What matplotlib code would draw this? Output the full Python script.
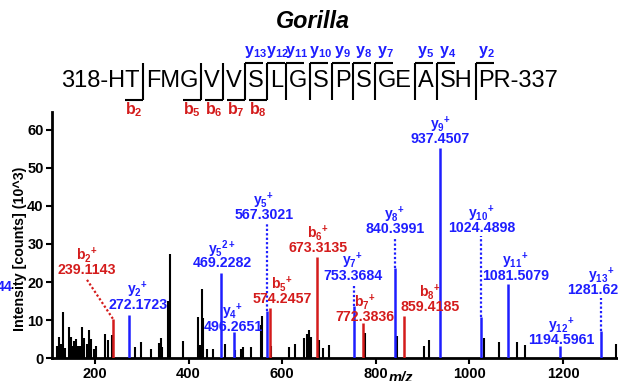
import matplotlib
matplotlib.use('Agg')
import matplotlib.pyplot as plt

plt.rcParams['font.family'] = ['Liberation Sans', 'DejaVu Sans']
plt.rcParams['mathtext.fontset'] = 'custom'
plt.rcParams['mathtext.rm'] = 'Liberation Sans'
plt.rcParams['mathtext.bf'] = 'Liberation Sans:bold'
plt.rcParams['mathtext.it'] = 'Liberation Sans:italic'

# ---------------- data ----------------
other_mz = [118.8, 123.7, 128.0, 131.6, 136.5, 143.6, 148.7, 152.0, 155.8, 159.4,
            163.0, 168.6, 172.2, 175.7, 182.9, 187.8, 191.4, 197.0, 202.0, 222.0,
            227.0, 236.3, 286.0, 298.0, 319.0, 337.4, 341.0, 344.0, 356.0, 361.0,
            387.0, 420.0, 424.0, 428.6, 431.0, 439.0, 453.0, 478.0, 499.0, 512.0,
            516.0, 533.0, 554.0, 557.0, 577.0, 615.0, 628.0, 647.0, 653.0, 658.0,
            661.0, 679.0, 687.0, 699.0, 777.0, 846.0, 904.0, 914.0, 1032.0, 1064.0,
            1101.0, 1118.0, 1314.0]
other_int = [3.1, 5.6, 3.8, 12.2, 2.8, 8.1, 5.5, 3.3, 4.6, 5.0,
             3.3, 3.2, 8.1, 5.4, 3.8, 7.4, 5.0, 2.4, 3.1, 6.3,
             4.8, 6.1, 2.9, 4.4, 2.5, 3.9, 5.2, 3.0, 14.9, 27.3,
             4.6, 10.9, 3.5, 18.1, 10.5, 2.4, 2.4, 3.8, 2.2, 2.4,
             3.0, 3.0, 8.8, 11.2, 3.3, 2.9, 3.8, 5.2, 6.4, 7.3,
             5.7, 4.8, 2.6, 3.5, 6.6, 5.9, 3.1, 4.8, 5.2, 4.4,
             4.4, 3.5, 3.8]

b_names = ['b_{2}{}^{+}', 'b_{5}{}^{+}', 'b_{6}{}^{+}', 'b_{7}{}^{+}', 'b_{8}{}^{+}']
b_mz = [239.1143, 574.2457, 673.3135, 772.3836, 859.4185]
b_int = [10.2, 13.3, 26.7, 9.2, 11.1]

y_names = ['y_{2}{}^{+}', 'y_{5}{}^{2+}', 'y_{4}{}^{+}', 'y_{5}{}^{+}', 'y_{7}{}^{+}', 'y_{8}{}^{+}',
           'y_{9}{}^{+}', 'y_{10}{}^{+}', 'y_{11}{}^{+}', 'y_{12}{}^{+}', 'y_{13}{}^{+}']
y_mz = [272.1723, 469.2282, 496.2651, 567.3021, 753.3684, 840.3991,
        937.4507, 1024.4898, 1081.5079, 1194.5961, 1281.6281]
y_int = [11.4, 22.5, 7.0, 12.3, 13.6, 23.6, 55.2, 10.8, 19.5, 3.3, 7.2]

x_ticks = [200, 400, 600, 800, 1000, 1200]
y_ticks = [0, 10, 20, 30, 40, 50, 60]

title = 'Gorilla'
seq_groups = ['318-HT', 'FMG', 'V', 'V', 'S', 'L', 'G', 'S', 'P', 'S', 'GE', 'A', 'SH', 'PR-337']
n_residues = 20
b_sites = [2, 5, 6, 7, 8]
y_sites = [13, 12, 11, 10, 9, 8, 7, 5, 4, 2]

# ---------------- layout (label centres in data units) ----------------
label_pos = {
    'b_{2}{}^{+}': (182.9, 23.2), 'b_{5}{}^{+}': (599.6, 15.6), 'b_{6}{}^{+}': (676.5, 29.0),
    'b_{7}{}^{+}': (775.9, 10.9), 'b_{8}{}^{+}': (915.8, 13.5),
    'y_{2}{}^{+}': (291.9, 14.0), 'y_{5}{}^{2+}': (471.4, 24.9), 'y_{4}{}^{+}': (494.9, 8.3),
    'y_{5}{}^{+}': (561.1, 37.6), 'y_{7}{}^{+}': (750.2, 21.7), 'y_{8}{}^{+}': (841.0, 33.9),
    'y_{9}{}^{+}': (938.3, 57.5), 'y_{10}{}^{+}': (1025.9, 34.1), 'y_{11}{}^{+}': (1098.5, 21.7),
    'y_{12}{}^{+}': (1196.8, 4.8), 'y_{13}{}^{+}': (1281.2, 17.9),
}
dotted_vertical = ['y_{5}{}^{+}', 'y_{7}{}^{+}', 'y_{8}{}^{+}', 'y_{10}{}^{+}', 'y_{13}{}^{+}']
dotted_diag = ['b_{2}{}^{+}']

RED = '#d41c1c'
BLUE = '#1e1eff'
W, H = 618, 381

fig = plt.figure(figsize=(W / 100, H / 100), dpi=100)
ax = fig.add_axes([52 / W, (H - 358.3) / H, 566 / W, 246.3 / H])
ax.set_xlim(108.1, 1317.5)
ax.set_ylim(0, 64.6)

ax.vlines(other_mz, 0, other_int, color='black', lw=1.5, zorder=2)
ax.vlines(b_mz, 0, b_int, color=RED, lw=1.8, zorder=3)
ax.vlines(y_mz, 0, y_int, color=BLUE, lw=1.8, zorder=3)

for s in ['top', 'right']:
    ax.spines[s].set_visible(False)
for s in ['left', 'bottom']:
    ax.spines[s].set_linewidth(2)
ax.set_xticks(x_ticks)
ax.set_yticks(y_ticks)
ax.tick_params(axis='both', length=4, width=1.5, labelsize=10.5, pad=2)
for lbl in ax.get_xticklabels() + ax.get_yticklabels():
    lbl.set_fontweight('bold')

px_per_unit = 246.3 / 64.6

def draw_labels(names, mzs, ints, color):
    for name, mz, it in zip(names, mzs, ints):
        lx, ly = label_pos[name]
        ax.text(lx, ly, f'{mz:.4f}', color=color, fontsize=10.2, fontweight='bold',
                ha='center', va='center', zorder=5)
        ax.annotate(f'$\\mathbf{{{name}}}$', (lx, ly), xytext=(0, 10.5),
                    textcoords='offset points', color=color, fontsize=10,
                    ha='center', va='center', zorder=5)
        if name in dotted_vertical:
            ax.plot([mz, mz], [it, ly - 8 / px_per_unit], color=color, lw=1.6,
                    ls=(0, (1, 1)), zorder=3)
        if name in dotted_diag:
            ax.plot([lx, mz], [ly - 10 / px_per_unit, it], color=color, lw=1.6,
                    ls=(0, (1, 1)), zorder=3)

draw_labels(b_names, b_mz, b_int, RED)
draw_labels(y_names, y_mz, y_int, BLUE)

# overlay in pixel coordinates for title / sequence / axis labels
ov = fig.add_axes([0, 0, 1, 1], facecolor='none')
ov.set_xlim(0, W)
ov.set_ylim(H, 0)
ov.axis('off')

ov.text(313, 22, title, fontsize=16.8, fontweight='bold', fontstyle='italic',
        ha='center', va='center')
ov.text(20, 249, 'Intensity [counts] (10^3)', fontsize=10.3, fontweight='bold',
        rotation=90, ha='center', va='center')
ov.text(401, 378, 'm/z', fontsize=10.5, fontweight='bold', fontstyle='italic',
        ha='center', va='center')
ov.text(13, 287, '44', fontsize=10.2, fontweight='bold', color=BLUE, ha='right', va='center')

renderer = fig.canvas.get_renderer()
x = 61.5
gap = 6.0
blen = 18
count = 0
for i, grp in enumerate(seq_groups):
    t = ov.text(x, 87, grp, fontsize=17, ha='left', va='baseline')
    wpx = t.get_window_extent(renderer).width
    x += wpx
    count += sum(1 for c in grp if c.isalpha())
    if i < len(seq_groups) - 1:
        xc = x + gap / 2
        ov.plot([xc, xc], [63, 99.5], color='black', lw=1.5, solid_capstyle='butt')
        if count in b_sites:
            ov.plot([xc - blen, xc], [99.5, 99.5], color='black', lw=1.5, solid_capstyle='butt')
            ov.text(xc - 9, 110, f'$\\mathbf{{b_{{{count}}}}}$', color=RED,
                    fontsize=11.5, ha='center', va='center')
        ysite = n_residues - count
        if ysite in y_sites:
            ov.plot([xc, xc + blen], [63, 63], color='black', lw=1.5, solid_capstyle='butt')
            ov.text(xc + 10.5, 52, f'$\\mathbf{{y_{{{ysite}}}}}$', color=BLUE,
                    fontsize=11.5, ha='center', va='center')
        x += gap

fig.savefig('out.png', dpi=100)
